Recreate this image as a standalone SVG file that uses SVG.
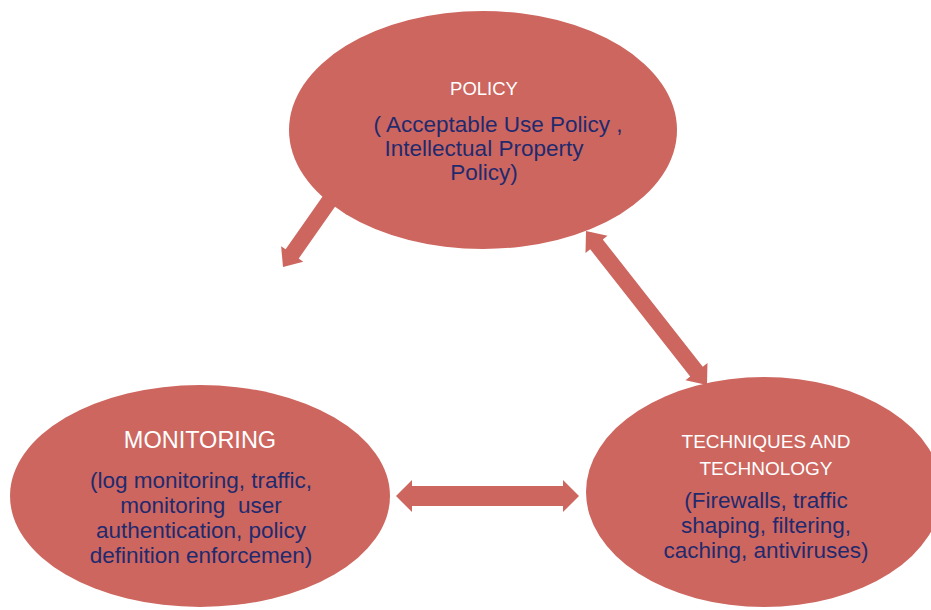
<svg xmlns="http://www.w3.org/2000/svg" width="931" height="610" viewBox="0 0 931 610">
<style>
  .node { fill: #cd665f; }
  .conn { fill: #cd665f; }
  .title { font-family: "Liberation Sans", Arial, sans-serif; fill: #ffffff; text-anchor: middle; }
  .body { font-family: "Liberation Sans", Arial, sans-serif; fill: #1f2a6e; text-anchor: middle; font-size: 22.5px; white-space: pre; }
</style>
<rect width="931" height="610" fill="#ffffff"/>
<g id="connectors">
  <polygon class="conn" transform="translate(283,267) rotate(125)" points="0,0 -16,-13.5 -16,-8 -85,-8 -85,8 -16,8 -16,13.5"/>
  <polygon class="conn" transform="translate(586,231) rotate(51.84)" points="0,0 17,-14 17,-8 178.8,-8 178.8,-14 195.8,0 178.8,14 178.8,8 17,8 17,14"/>
  <polygon class="conn" transform="translate(396,496)" points="0,0 16,-16 16,-10 167,-10 167,-16 183,0 167,16 167,10 16,10 16,16"/>
</g>
<g id="policy">
  <ellipse class="node" cx="483" cy="130" rx="194" ry="119"/>
  <text class="title" x="484" y="95" font-size="18.5">POLICY</text>
  <text class="body" x="498" y="132">( Acceptable Use Policy ,</text>
  <text class="body" x="484" y="156">Intellectual Property</text>
  <text class="body" x="484" y="180">Policy)</text>
</g>
<g id="monitoring">
  <ellipse class="node" cx="200" cy="496" rx="190" ry="111"/>
  <text class="title" x="200" y="448" font-size="23.5">MONITORING</text>
  <text class="body" x="201" y="488">(log monitoring, traffic,</text>
  <text class="body" x="201" y="513">monitoring  user</text>
  <text class="body" x="201" y="538">authentication, policy</text>
  <text class="body" x="201" y="563">definition enforcemen)</text>
</g>
<g id="techniques">
  <ellipse class="node" cx="764" cy="492" rx="178" ry="115"/>
  <text class="title" x="766" y="448" font-size="19">TECHNIQUES AND</text>
  <text class="title" x="766" y="475" font-size="19">TECHNOLOGY</text>
  <text class="body" x="766" y="508">(Firewalls, traffic</text>
  <text class="body" x="766" y="533">shaping, filtering,</text>
  <text class="body" x="766" y="558">caching, antiviruses)</text>
</g>
</svg>
